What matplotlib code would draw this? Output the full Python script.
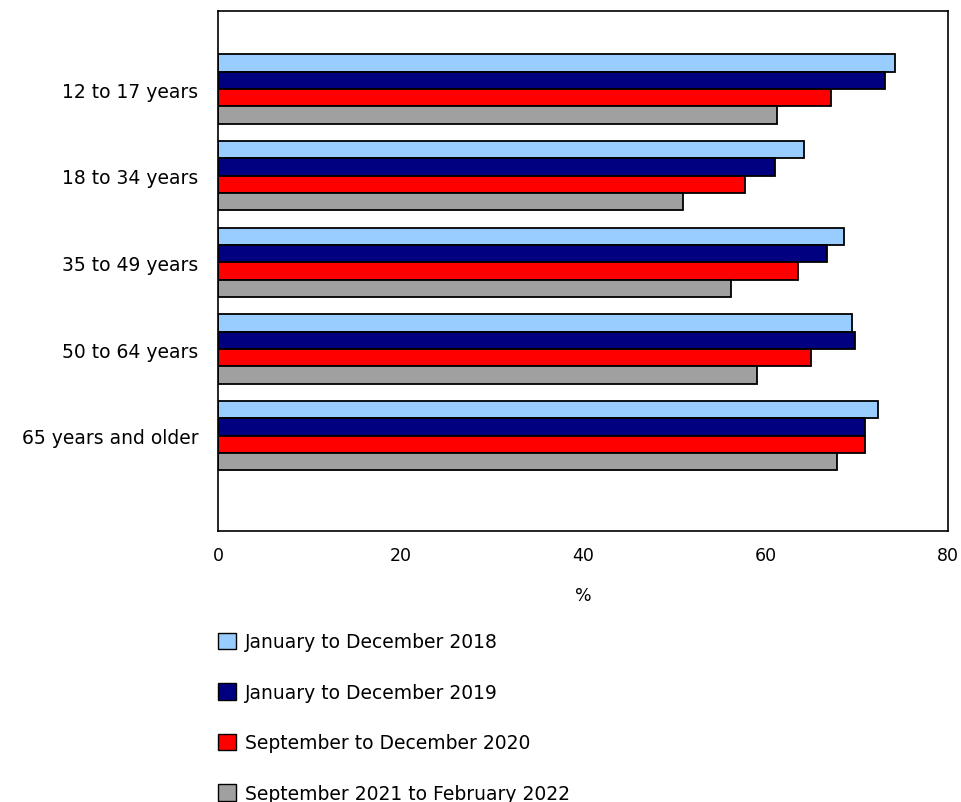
import matplotlib
matplotlib.use("Agg")
import matplotlib.pyplot as plt
import numpy as np
from matplotlib.patches import Patch

categories = ["12 to 17 years", "18 to 34 years", "35 to 49 years",
              "50 to 64 years", "65 years and older"]
series_names = ["January to December 2018", "January to December 2019",
                "September to December 2020", "September 2021 to February 2022"]
values_2018 = [74.2, 64.2, 68.6, 69.5, 72.3]
values_2019 = [73.1, 61.0, 66.7, 69.8, 70.9]
values_2020 = [67.2, 57.8, 63.6, 65.0, 70.9]
values_2021 = [61.3, 51.0, 56.2, 59.1, 67.8]
colors = ["#99ccff", "#000080", "#ff0000", "#a0a0a0"]
x_ticks = [0, 20, 40, 60, 80]

plt.rcParams["font.family"] = ["DejaVu Sans"]
FS = 13.5
TFS = 12.5
fig = plt.figure(figsize=(9.62, 8.03), dpi=100)
W, H = 962, 803
ax = fig.add_axes([218 / W, 1 - 532 / H, (948 - 218) / W, (532 - 12) / H])

series = [values_2018, values_2019, values_2020, values_2021]
y = np.arange(len(categories))
bh = 0.2
for k, (vals, c) in enumerate(zip(series, colors)):
    offs = (k - 1.5) * bh
    ax.barh(y + offs, vals, height=bh, color=c, edgecolor="black",
            linewidth=1.3)

ax.set_ylim(len(categories) - 1 + 1.1, -0.9)
ax.set_xlim(0, 80)
ax.set_xticks(x_ticks)
ax.set_yticks(y)
ax.set_yticklabels(categories, fontsize=FS)
ax.tick_params(axis="x", length=0, labelsize=TFS, colors="black", pad=11)
ax.tick_params(axis="y", length=0, labelsize=FS, colors="black", pad=14)
for s in ax.spines.values():
    s.set_linewidth(1.2)
ax.set_xlabel("%", fontsize=TFS, labelpad=16)

handles = [Patch(facecolor=c, edgecolor="black", linewidth=1.0) for c in colors]
fig.legend(handles, series_names, loc="upper left",
           bbox_to_anchor=(210 / W, 1 - 626 / H), frameon=False,
           fontsize=FS, handlelength=1.0, handleheight=1.0,
           handletextpad=0.45, labelspacing=1.68, borderaxespad=0)

fig.savefig("out.png", dpi=100)
